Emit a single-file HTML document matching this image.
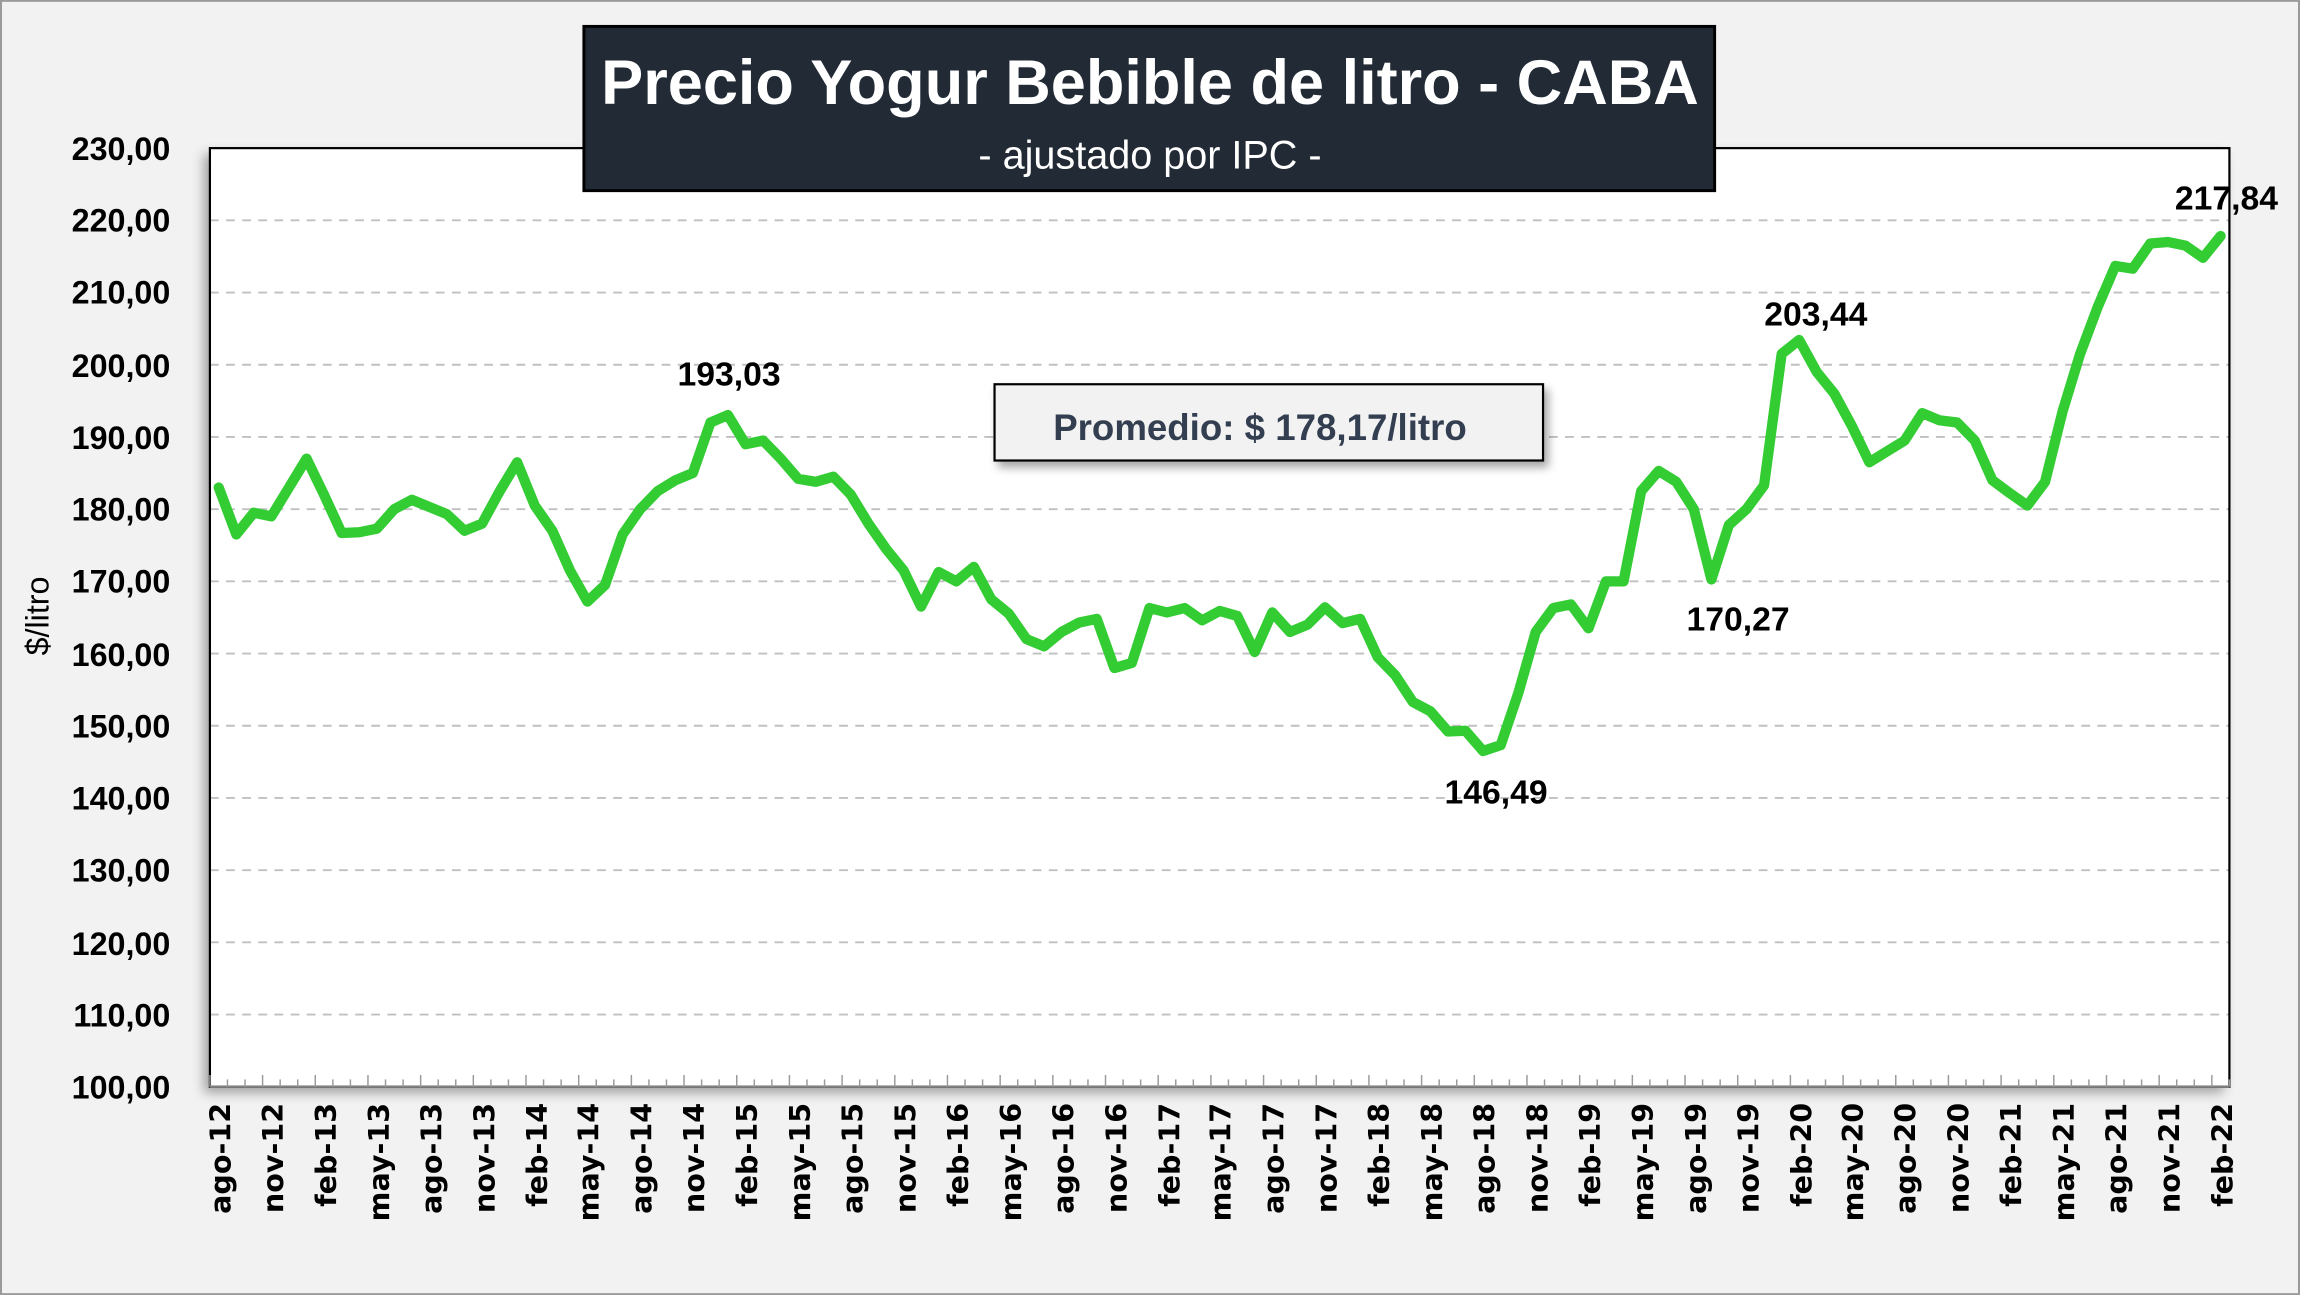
<!DOCTYPE html>
<html><head><meta charset="utf-8"><style>
html,body{margin:0;padding:0;background:#f2f2f2;}
svg{display:block;}
.yl{font-family:"Liberation Sans",sans-serif;font-weight:bold;font-size:22px;fill:#000;text-anchor:end;}
.xl{font-family:"DejaVu Sans","Liberation Sans",sans-serif;font-weight:bold;font-size:19.5px;fill:#000;text-anchor:end;}
.dl{font-family:"Liberation Sans",sans-serif;font-weight:bold;font-size:23px;fill:#000;text-anchor:middle;}
</style></head><body>
<svg width="2300" height="1295" viewBox="0 0 1568 883" xmlns="http://www.w3.org/2000/svg">
<defs>
<filter id="sh" x="-10%" y="-10%" width="130%" height="130%"><feDropShadow dx="-4" dy="4" stdDeviation="4" flood-color="#000" flood-opacity="0.35"/></filter>
<filter id="sh2" x="-10%" y="-10%" width="130%" height="150%"><feDropShadow dx="3" dy="4" stdDeviation="3" flood-color="#000" flood-opacity="0.35"/></filter>
</defs>
<rect x="0.5" y="0.5" width="1567" height="882" fill="#f2f2f2" stroke="#9a9a9a" stroke-width="1.5"/>
<rect x="143" y="101" width="1377" height="640" fill="#fff" filter="url(#sh)"/>
<g id="grid" stroke="#c0c0c0" stroke-width="1.3" stroke-dasharray="6,5"></g>
<rect x="143" y="101" width="1377" height="640" fill="none" stroke="#000" stroke-width="1.5"/>
<line x1="143" y1="741" x2="1520" y2="741" stroke="#808080" stroke-width="1.5"/>
<g id="ticks" stroke="#999" stroke-width="1"></g>
<g>
<text class="yl" x="116" y="109">230,00</text>
<text class="yl" x="116" y="158">220,00</text>
<text class="yl" x="116" y="207">210,00</text>
<text class="yl" x="116" y="257">200,00</text>
<text class="yl" x="116" y="306">190,00</text>
<text class="yl" x="116" y="355">180,00</text>
<text class="yl" x="116" y="404">170,00</text>
<text class="yl" x="116" y="454">160,00</text>
<text class="yl" x="116" y="503">150,00</text>
<text class="yl" x="116" y="552">140,00</text>
<text class="yl" x="116" y="601">130,00</text>
<text class="yl" x="116" y="651">120,00</text>
<text class="yl" x="116" y="700">110,00</text>
<text class="yl" x="116" y="749">100,00</text>
</g>
<text transform="translate(33,420) rotate(-90)" text-anchor="middle" style="font-family:'Liberation Sans',sans-serif;font-size:22px;fill:#000">$/litro</text>
<g>
<text class="xl" transform="translate(157,752) rotate(-90)">ago-12</text>
<text class="xl" transform="translate(193,752) rotate(-90)">nov-12</text>
<text class="xl" transform="translate(229,752) rotate(-90)">feb-13</text>
<text class="xl" transform="translate(265,752) rotate(-90)">may-13</text>
<text class="xl" transform="translate(301,752) rotate(-90)">ago-13</text>
<text class="xl" transform="translate(337,752) rotate(-90)">nov-13</text>
<text class="xl" transform="translate(373,752) rotate(-90)">feb-14</text>
<text class="xl" transform="translate(408,752) rotate(-90)">may-14</text>
<text class="xl" transform="translate(444,752) rotate(-90)">ago-14</text>
<text class="xl" transform="translate(480,752) rotate(-90)">nov-14</text>
<text class="xl" transform="translate(516,752) rotate(-90)">feb-15</text>
<text class="xl" transform="translate(552,752) rotate(-90)">may-15</text>
<text class="xl" transform="translate(588,752) rotate(-90)">ago-15</text>
<text class="xl" transform="translate(624,752) rotate(-90)">nov-15</text>
<text class="xl" transform="translate(660,752) rotate(-90)">feb-16</text>
<text class="xl" transform="translate(696,752) rotate(-90)">may-16</text>
<text class="xl" transform="translate(732,752) rotate(-90)">ago-16</text>
<text class="xl" transform="translate(768,752) rotate(-90)">nov-16</text>
<text class="xl" transform="translate(804,752) rotate(-90)">feb-17</text>
<text class="xl" transform="translate(839,752) rotate(-90)">may-17</text>
<text class="xl" transform="translate(875,752) rotate(-90)">ago-17</text>
<text class="xl" transform="translate(911,752) rotate(-90)">nov-17</text>
<text class="xl" transform="translate(947,752) rotate(-90)">feb-18</text>
<text class="xl" transform="translate(983,752) rotate(-90)">may-18</text>
<text class="xl" transform="translate(1019,752) rotate(-90)">ago-18</text>
<text class="xl" transform="translate(1055,752) rotate(-90)">nov-18</text>
<text class="xl" transform="translate(1091,752) rotate(-90)">feb-19</text>
<text class="xl" transform="translate(1127,752) rotate(-90)">may-19</text>
<text class="xl" transform="translate(1163,752) rotate(-90)">ago-19</text>
<text class="xl" transform="translate(1199,752) rotate(-90)">nov-19</text>
<text class="xl" transform="translate(1235,752) rotate(-90)">feb-20</text>
<text class="xl" transform="translate(1270,752) rotate(-90)">may-20</text>
<text class="xl" transform="translate(1306,752) rotate(-90)">ago-20</text>
<text class="xl" transform="translate(1342,752) rotate(-90)">nov-20</text>
<text class="xl" transform="translate(1378,752) rotate(-90)">feb-21</text>
<text class="xl" transform="translate(1414,752) rotate(-90)">may-21</text>
<text class="xl" transform="translate(1450,752) rotate(-90)">ago-21</text>
<text class="xl" transform="translate(1486,752) rotate(-90)">nov-21</text>
<text class="xl" transform="translate(1522,752) rotate(-90)">feb-22</text>
</g>
<polyline id="line" fill="none" stroke="#33cc33" stroke-width="7" stroke-linejoin="round" stroke-linecap="round"/>
<text class="dl" x="497" y="263">193,03</text>
<text class="dl" x="1020" y="548">146,49</text>
<text class="dl" x="1185" y="430">170,27</text>
<text class="dl" x="1238" y="222">203,44</text>
<text class="dl" x="1518" y="143">217,84</text>
<rect x="678" y="262" width="374" height="52" fill="#f2f2f2" stroke="#000" stroke-width="1.5" filter="url(#sh2)"/>
<text x="859" y="300" text-anchor="middle" style="font-family:'Liberation Sans',sans-serif;font-weight:bold;font-size:25px;fill:#333f50">Promedio: $ 178,17/litro</text>
<rect x="398" y="18" width="771" height="112" fill="#222a35" stroke="#000" stroke-width="2"/>
<text x="784" y="71" text-anchor="middle" style="font-family:'Liberation Sans',sans-serif;font-weight:bold;font-size:43px;fill:#fff">Precio Yogur Bebible de litro - CABA</text>
<text x="784" y="115" text-anchor="middle" style="font-family:'Liberation Sans',sans-serif;font-size:27px;fill:#fff">- ajustado por IPC -</text>
</svg>
<script>
var v=[183,176.5,179.5,179,183,187,182,176.7,176.8,177.3,180,181.3,180.3,179.3,177,178,182.5,186.5,180.5,177,171.5,167.2,169.5,176.5,180,182.5,184,185,192,193.03,189,189.5,187,184.2,183.8,184.5,182,178,174.5,171.5,166.5,171.3,170,172,167.5,165.5,162,161,163,164.3,164.8,158,158.7,166.3,165.7,166.3,164.6,165.9,165.2,160.2,165.7,163,164,166.4,164.2,164.8,159.5,157,153.3,152,149.2,149.3,146.49,147.3,154.5,163,166.3,166.8,163.5,170,170,182.5,185.3,183.8,180,170.27,177.8,180,183.3,201.5,203.44,199,196,191.5,186.5,188,189.5,193.3,192.3,192,189.5,184,182.2,180.5,183.8,193.5,201.5,208,213.7,213.3,216.8,217,216.5,214.8,217.84];
var NS="http://www.w3.org/2000/svg",st=1377/115,p=[];
for(var i=0;i<v.length;i++){p.push((143+st*(i+0.5)).toFixed(1)+","+(741-(v[i]-100)*4.923).toFixed(1));}
document.getElementById("line").setAttribute("points",p.join(" "));
var g=document.getElementById("grid");
for(var k=1;k<13;k++){var y=741-k*49.23;var l=document.createElementNS(NS,"line");l.setAttribute("x1",143);l.setAttribute("x2",1520);l.setAttribute("y1",y);l.setAttribute("y2",y);g.appendChild(l);}
var t=document.getElementById("ticks");
for(var i=0;i<=115;i++){var x=143+st*i;var l=document.createElementNS(NS,"line");l.setAttribute("x1",x);l.setAttribute("x2",x);l.setAttribute("y1",741);l.setAttribute("y2",i%3==0?733:736);t.appendChild(l);}
</script>
</body></html>
